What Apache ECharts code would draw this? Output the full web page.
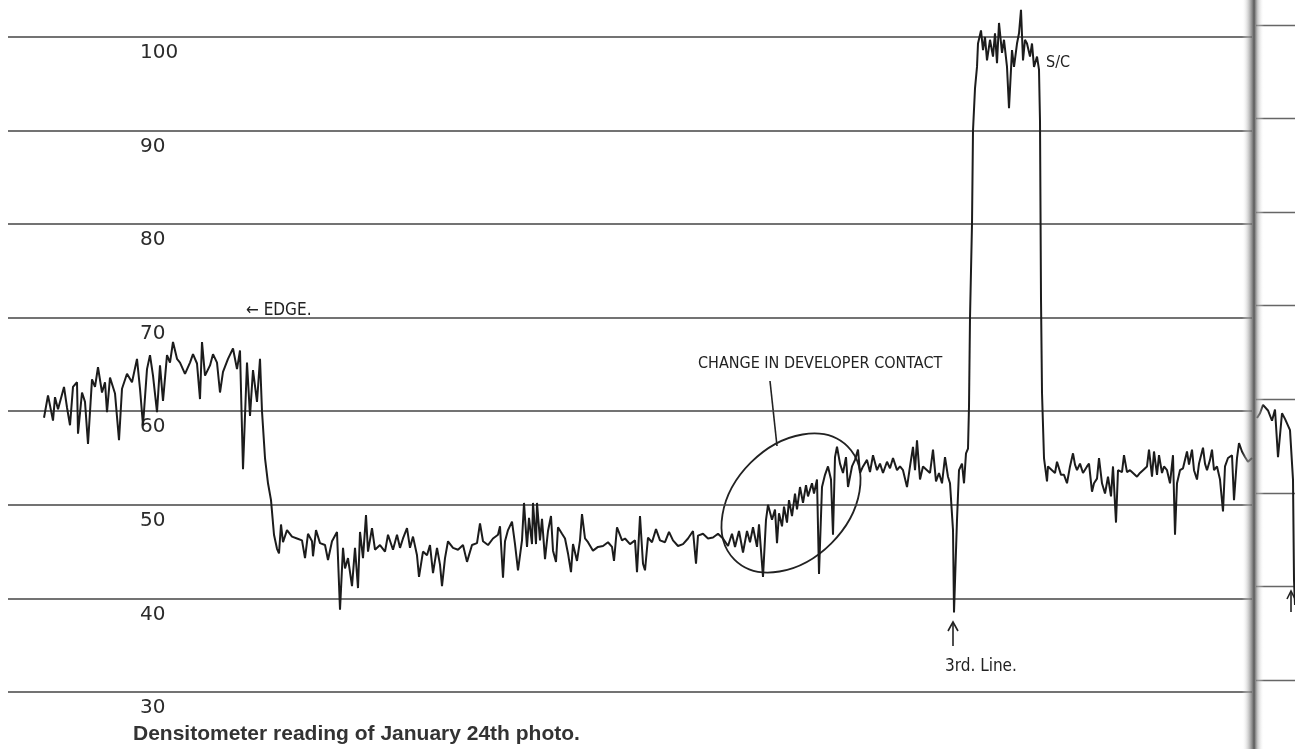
<!DOCTYPE html>
<html>
<head>
<meta charset="utf-8">
<title>Densitometer reading</title>
<script src="https://cdn.jsdelivr.net/npm/echarts@6/dist/echarts.min.js"></script>
<style>
  html, body { margin: 0; padding: 0; background: #fff; }
  #chart { width: 1295px; height: 749px; }
</style>
</head>
<body>
<div id="chart"></div>
<script>
// density readings, [scan position, density]
const edgeRegion = [
  [44, 59.3], [48, 61.7], [53, 59.0], [55, 61.5], [58, 60.2], [62, 61.8], [64, 62.6], [67, 60.4], [70, 58.5], [73, 62.6],
  [77, 63.1], [78, 57.6], [82, 62.0], [85, 61.0], [88, 56.5], [92, 63.4], [95, 62.6], [98, 64.7], [102, 62.0], [105, 63.1],
  [107, 59.9], [110, 63.6], [115, 61.9], [119, 56.9], [122, 62.4], [127, 64.0], [132, 63.1], [137, 65.6], [140, 62.4], [143, 58.5],
  [147, 64.5], [150, 66.0], [153, 63.8], [157, 59.9], [160, 64.9], [163, 61.1], [167, 66.0], [170, 65.2], [173, 67.4], [177, 65.6],
  [180, 65.2], [185, 64.0], [190, 65.2], [193, 66.1], [197, 65.1], [200, 61.3], [202, 67.4], [205, 63.8], [210, 64.9], [213, 66.1],
  [217, 65.2], [220, 62.0], [223, 64.2], [228, 65.6], [233, 66.7], [237, 64.5], [240, 66.5], [243, 53.8], [247, 65.2], [250, 59.5],
  [253, 64.4], [257, 61.0], [260, 65.6], [262, 60.0], [265, 55.0], [268, 52.3], [271, 50.5], [274, 46.8]
]
const baseRegion = [
  [277, 45.3], [279, 44.8], [281, 47.9], [283, 46.0], [287, 47.3], [292, 46.6], [297, 46.4], [302, 46.2], [305, 44.3], [308, 46.9],
  [312, 46.1], [313, 44.5], [316, 47.3], [320, 45.9], [325, 45.7], [328, 44.1], [332, 46.1], [337, 47.1], [340, 38.8], [343, 45.4],
  [345, 43.2], [348, 44.3], [352, 41.3], [355, 45.4], [358, 41.1], [360, 47.1], [363, 44.3], [366, 48.9], [368, 45.0], [372, 47.5],
  [375, 45.2], [380, 45.7], [385, 45.0], [388, 46.8], [393, 45.2], [397, 46.8], [400, 45.4], [403, 46.4], [407, 47.5], [410, 45.4],
  [413, 46.6], [417, 44.6], [419, 42.3], [423, 45.0], [427, 44.6], [430, 45.7], [433, 42.7], [437, 45.4], [440, 43.6], [442, 41.3],
  [445, 44.3], [448, 46.1], [453, 45.4], [458, 45.2], [463, 45.7], [467, 43.9], [472, 45.7], [477, 45.9], [480, 48.0], [483, 46.1],
  [488, 45.7], [493, 46.4], [498, 46.8], [500, 47.7], [503, 42.2], [505, 46.1], [508, 47.3], [512, 48.2]
]
const midRegion = [
  [515, 45.8], [518, 43.0], [522, 46.2], [524, 50.2], [527, 45.5], [529, 48.6], [532, 45.8], [533, 50.2], [536, 45.8], [537, 50.2],
  [540, 46.2], [542, 48.5], [545, 44.2], [548, 47.2], [551, 48.8], [553, 45.1], [556, 43.9], [558, 47.6], [562, 46.9], [565, 46.4],
  [568, 44.8], [571, 42.8], [573, 45.8], [577, 44.0], [580, 46.2], [582, 49.0], [585, 46.4], [588, 46.0], [593, 45.1], [598, 45.5],
  [603, 45.6], [608, 46.0], [612, 45.5], [614, 44.0], [617, 47.6], [622, 46.2], [625, 46.4], [630, 45.8], [635, 46.2], [637, 42.8],
  [640, 48.8], [643, 43.7], [645, 43.0], [648, 46.5], [652, 46.0], [656, 47.4], [660, 46.2], [665, 46.0], [669, 47.1], [673, 46.2],
  [678, 45.6], [683, 45.8], [688, 46.4], [693, 47.2], [696, 43.7], [698, 46.7], [703, 46.9], [708, 46.4], [713, 46.5], [718, 46.9],
  [723, 46.4], [728, 45.6], [732, 46.9], [735, 45.5], [739, 47.2], [743, 44.9], [747, 47.2], [750, 46.0], [753, 47.6], [757, 45.5],
  [759, 47.9], [763, 42.3], [766, 48.4]
]
const developerRegion = [
  [768, 50.0], [772, 48.4], [775, 49.5], [777, 45.9], [779, 49.1], [782, 47.7], [784, 49.8], [787, 48.1], [789, 50.5], [792, 48.8],
  [795, 51.2], [797, 49.5], [800, 51.9], [803, 50.2], [806, 52.1], [808, 50.9], [812, 52.3], [814, 51.2], [817, 52.7], [819, 42.6],
  [822, 51.9], [825, 53.2], [828, 54.1], [831, 52.7], [833, 46.8], [835, 55.1], [837, 56.2], [840, 54.4], [843, 53.4], [846, 55.1],
  [848, 51.9], [852, 54.1], [855, 54.8], [858, 55.9], [860, 53.4], [863, 54.1], [867, 54.8], [870, 53.5], [873, 55.3], [877, 53.7],
  [880, 54.4], [883, 53.4], [887, 54.6], [890, 53.9], [893, 55.0], [897, 53.7], [900, 54.1], [903, 53.7], [907, 51.9], [910, 54.1],
  [913, 56.2], [915, 53.7], [917, 56.9], [920, 52.7], [923, 54.1], [927, 53.7], [930, 53.4], [933, 55.9], [936, 52.5], [939, 53.4],
  [942, 52.3], [945, 55.1], [948, 53.0], [950, 52.3], [953, 47.3], [954, 38.5], [957, 48.4], [959, 53.7], [962, 54.4], [964, 52.3],
  [966, 55.5], [968, 56.0]
]
const standardRegion = [
  [969, 60.5], [970, 70.0], [972, 80.0], [973, 90.0], [975, 94.5], [977, 96.8], [978, 99.3], [981, 100.7], [983, 98.6], [985, 100.0],
  [987, 97.5], [990, 99.7], [993, 97.9], [995, 100.4], [997, 97.2], [999, 101.5], [1002, 98.3], [1004, 99.7], [1007, 96.8], [1009, 92.4],
  [1012, 98.6], [1014, 96.8], [1017, 99.3], [1019, 100.4], [1021, 102.9], [1023, 97.5], [1025, 99.7], [1027, 99.3], [1030, 97.9], [1032, 99.3],
  [1034, 96.8], [1037, 97.9], [1039, 96.5], [1040, 91.0], [1041, 72.0], [1042, 62.0], [1044, 55.0]
]
const tailRegion = [
  [1047, 52.5], [1048, 54.1], [1052, 53.7], [1055, 53.4], [1057, 54.6], [1061, 53.2], [1064, 53.2], [1067, 52.3], [1070, 54.1], [1073, 55.5],
  [1075, 54.3], [1077, 53.7], [1080, 54.4], [1083, 53.4], [1087, 54.1], [1089, 54.4], [1092, 51.4], [1094, 52.3], [1097, 52.8], [1099, 55.0],
  [1102, 52.3], [1105, 51.2], [1108, 53.0], [1111, 50.9], [1113, 54.1], [1116, 48.1], [1118, 53.7], [1122, 53.5], [1124, 55.3], [1127, 53.5],
  [1130, 53.7], [1133, 53.4], [1137, 53.0], [1140, 53.4], [1143, 53.7], [1147, 54.1], [1149, 55.9], [1152, 53.0], [1154, 55.7], [1157, 53.2],
  [1159, 55.3], [1162, 53.4], [1164, 54.1], [1167, 53.7], [1170, 52.3], [1173, 55.3], [1175, 46.8], [1177, 52.3], [1180, 53.7], [1183, 53.9],
  [1187, 55.7], [1189, 54.3], [1192, 55.9], [1194, 53.7], [1197, 52.7], [1199, 54.4], [1203, 56.1], [1205, 54.4], [1207, 53.7], [1210, 54.8],
  [1212, 55.9], [1214, 53.7], [1217, 54.1], [1220, 52.7], [1223, 49.3], [1225, 54.1], [1228, 55.0], [1232, 55.3], [1234, 50.5], [1237, 55.0],
  [1239, 56.6], [1242, 55.7], [1245, 55.1], [1248, 54.6], [1252, 55.0]
]
// start of the next page, right of the binding
const nextPage = [
  [1257, 58.0], [1260, 58.5], [1263, 59.4], [1268, 58.8], [1272, 57.7], [1275, 58.9], [1278, 53.8], [1282, 58.5], [1285, 57.9], [1290, 56.7],
  [1293, 51.4], [1294, 40.7], [1295, 38.0]
]

const title = 'Densitometer reading of January 24th photo.'
const handFont = "'DejaVu Sans Condensed', 'Liberation Sans Narrow', 'DejaVu Sans', sans-serif"
const ink = '#222'

const chart = echarts.init(document.getElementById('chart'))

// text notes written on the chart
function note(text, x, y, size) {
  return {
    type: 'text',
    x: x,
    y: y,
    style: {
      text: text,
      fontSize: size,
      fontFamily: handFont,
      fill: ink,
      verticalAlign: 'middle',
      textVerticalAlign: 'middle'
    }
  }
}

let option = {
  animation: false,
  backgroundColor: '#fff',
  title: {
    text: title,
    left: 133,
    top: 724,
    padding: 0,
    textStyle: {
      fontFamily: 'Liberation Sans',
      fontWeight: 'bold',
      fontSize: 21,
      color: '#333'
    }
  },
  grid: [
    { left: 8, width: 1244, top: -56.6, height: 842.1, outerBoundsMode: 'none' },
    { left: 1256, width: 39, top: -68.6, height: 842.1, outerBoundsMode: 'none' }
  ],
  xAxis: [
    { type: 'value', gridIndex: 0, min: 8, max: 1252, show: false },
    { type: 'value', gridIndex: 1, min: 1256, max: 1295, show: false }
  ],
  yAxis: [
    {
      type: 'value',
      gridIndex: 0,
      min: 20,
      max: 110,
      interval: 10,
      axisLine: { show: false },
      axisTick: { show: false },
      splitLine: { lineStyle: { color: '#444', width: 1.6 } },
      axisLabel: {
        inside: true,
        margin: 132,
        verticalAlign: 'top',
        padding: [6, 0, 0, 0],
        fontSize: 20,
        fontFamily: 'DejaVu Sans',
        color: '#2b2b2b'
      }
    },
    {
      type: 'value',
      gridIndex: 1,
      min: 20,
      max: 110,
      interval: 10,
      axisLine: { show: false },
      axisTick: { show: false },
      axisLabel: { show: false },
      splitLine: { lineStyle: { color: '#666', width: 1.4 } }
    }
  ],
  series: [
    {
      type: 'line',
      xAxisIndex: 0,
      yAxisIndex: 0,
      data: [].concat(edgeRegion, baseRegion, midRegion, developerRegion, standardRegion, tailRegion),
      showSymbol: false,
      symbol: 'none',
      lineStyle: { color: '#1c1c1c', width: 2 }
    },
    {
      type: 'line',
      xAxisIndex: 1,
      yAxisIndex: 1,
      data: nextPage,
      showSymbol: false,
      symbol: 'none',
      lineStyle: { color: '#1c1c1c', width: 2 }
    }
  ],
  graphic: [
    note('← EDGE.', 246, 311, 17),
    note('CHANGE IN DEVELOPER CONTACT', 698, 364, 16),
    note('S/C', 1046, 63, 16),
    note('3rd. Line.', 945, 667, 17),
    // callout line and circle round the developer change
    { type: 'line', shape: { x1: 770, y1: 381, x2: 777, y2: 446 }, style: { stroke: ink, lineWidth: 1.6 } },
    {
      type: 'ellipse',
      x: 791,
      y: 503,
      rotation: Math.PI / 4,
      shape: { cx: 0, cy: 0, rx: 80, ry: 57 },
      style: { fill: 'none', stroke: ink, lineWidth: 1.8 }
    },
    // arrow to the 3rd line
    { type: 'line', shape: { x1: 953, y1: 646, x2: 953, y2: 623 }, style: { stroke: ink, lineWidth: 1.6 } },
    { type: 'polyline', shape: { points: [[948, 631], [953, 622], [958, 631]] }, style: { fill: 'none', stroke: ink, lineWidth: 1.6 } },
    // arrow on the next page
    { type: 'line', shape: { x1: 1291, y1: 612, x2: 1291, y2: 592 }, style: { stroke: ink, lineWidth: 1.6 } },
    { type: 'polyline', shape: { points: [[1287, 599], [1291, 591], [1295, 599]] }, style: { fill: 'none', stroke: ink, lineWidth: 1.6 } },
    // book binding
    {
      type: 'rect',
      z: 100,
      shape: { x: 1242, y: 0, width: 22, height: 749 },
      style: {
        fill: new echarts.graphic.LinearGradient(0, 0, 1, 0, [
          { offset: 0, color: 'rgba(255,255,255,0)' },
          { offset: 0.3, color: 'rgba(170,170,170,0.6)' },
          { offset: 0.55, color: 'rgba(70,70,70,0.9)' },
          { offset: 0.72, color: 'rgba(170,170,170,0.6)' },
          { offset: 1, color: 'rgba(255,255,255,0)' }
        ])
      }
    }
  ]
}

chart.setOption(option)
</script>
</body>
</html>
